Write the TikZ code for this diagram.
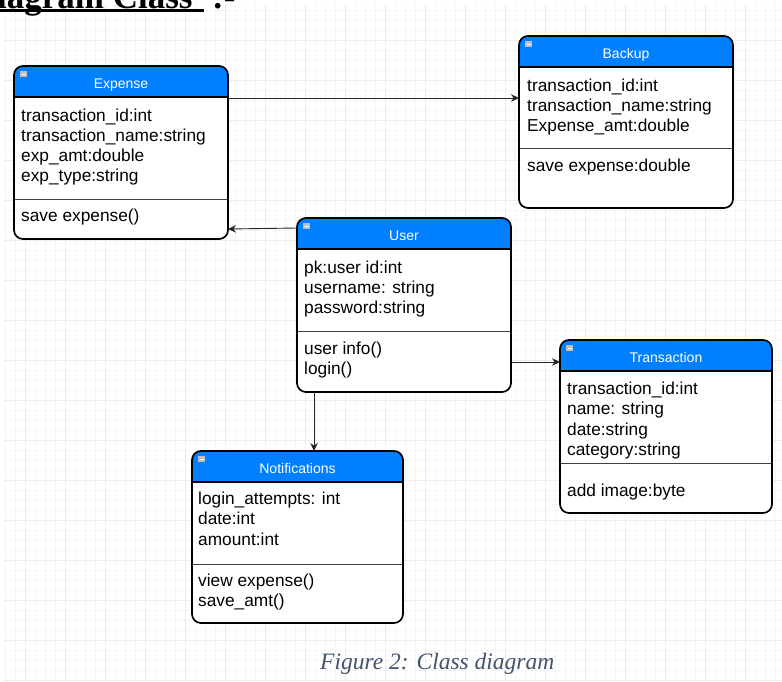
\documentclass[tikz,border=0pt]{standalone}
\usepackage{fontspec}
\setmainfont{Liberation Serif}
\newfontfamily\arialf{Liberation Sans}
\usetikzlibrary{arrows.meta,calc}
\definecolor{hdrblue}{HTML}{007FFF}
\definecolor{capcol}{HTML}{44546A}
\definecolor{gridminor}{HTML}{F5F5F5}
\definecolor{gridmajor}{HTML}{EDEDED}
\tikzset{
 classbox/.style={draw=black, line width=1.7pt, rounded corners=9pt, inner sep=0pt, outer sep=0pt},
 ctitle/.style={font=\arialf\fontsize{14}{16}\selectfont, text=white, anchor=base, inner sep=0pt},
 row/.style={font=\arialf\fontsize{17.3}{20}\selectfont, text=black, anchor=base west, inner sep=0pt},
 arr/.style={draw=black!85, line width=0.9pt, -{Stealth[length=8pt,width=7.5pt]}},
 headtxt/.style={font=\bfseries\fontsize{35}{40}\selectfont, anchor=base west, inner sep=0pt},
 captxt/.style={font=\itshape\fontsize{23.5}{26}\selectfont, text=capcol, anchor=base west, inner sep=0pt},
}
\newcommand\umlclass[8]{%
 \fill[white, rounded corners=9pt] (#2,#3) rectangle (#4,#5);
 \begin{scope}
 \clip[rounded corners=9pt] (#2,#3) rectangle (#4,#5);
 \fill[hdrblue] (#2,#3) rectangle (#4,#6);
 \end{scope}
 \draw[black, line width=1.4pt] (#2,#6) -- (#4,#6);
 \draw[black!75, line width=0.9pt] (#2,#7) -- (#4,#7);
 \fill[gray!50] (#2+6,#3+5) rectangle (#2+13,#3+11);
 \draw[white, line width=0.9pt] (#2+7.5,#3+8) -- (#2+11.5,#3+8);
 \node[ctitle] (#1-title) at ({(#2+#4)/2},#3+22) {#8};
 \node[classbox, minimum width={#4-#2}, minimum height={#5-#3}, anchor=north west] (#1) at (#2,#3) {};
}
\begin{document}
\begin{tikzpicture}[x=1pt,y=-1pt]
\useasboundingbox (0,0) rectangle (782,681);
\fill[white] (0,0) rectangle (782,681);
% grid
\foreach \x in {5,15,...,775} \draw[gridminor, line width=0.7pt] (\x,4) -- (\x,681);
\foreach \y in {10,20,...,680} \draw[gridminor, line width=0.7pt] (3,\y) -- (782,\y);
\foreach \x in {25,65,...,775} \draw[gridmajor, line width=0.7pt] (\x,4) -- (\x,681);
\foreach \y in {40,80,...,680} \draw[gridmajor, line width=0.7pt] (3,\y) -- (782,\y);
% heading (cut off at the top edge, as in the reference)
\node[headtxt] (head1) at (-3,8) {iagram Class};
\fill[black] (0,9) rectangle (204,12);
\node[headtxt] (head2) at (212,8) {:-};
% classes
\umlclass{expense}{14}{66}{228}{239}{97}{199}{Expense}
\node[row] (exp-a1) at (21,121) {transaction\_id:int};
\node[row] (exp-a2) at (21,141) {transaction\_name:string};
\node[row] (exp-a3) at (21,161) {exp\_amt:double};
\node[row] (exp-a4) at (21,181) {exp\_type:string};
\node[row] (exp-m1) at (21,221) {save expense()};

\umlclass{backup}{519}{36}{733}{208}{67}{148}{Backup}
\node[row] (bak-a1) at (527,91) {transaction\_id:int};
\node[row] (bak-a2) at (527,111) {transaction\_name:string};
\node[row] (bak-a3) at (527,131) {Expense\_amt:double};
\node[row] (bak-m1) at (527,171) {save expense:double};

\umlclass{user}{297}{218}{511}{392}{249}{331}{User}
\node[row] (usr-a1) at (304,273) {pk:user id:int};
\node[row] (usr-a2) at (304,293) {username: string};
\node[row] (usr-a3) at (304,313) {password:string};
\node[row] (usr-m1) at (304,354) {user info()};
\node[row] (usr-m2) at (304,374) {login()};

\umlclass{transaction}{560}{340}{772}{513}{371}{463}{Transaction}
\node[row] (trn-a1) at (567,394) {transaction\_id:int};
\node[row] (trn-a2) at (567,414) {name: string};
\node[row] (trn-a3) at (567,435) {date:string};
\node[row] (trn-a4) at (567,455) {category:string};
\node[row] (trn-m1) at (567,496) {add image:byte};

\umlclass{notif}{192}{451}{403}{623}{482}{564}{Notifications}
\node[row] (ntf-a1) at (198,504) {login\_attempts: int};
\node[row] (ntf-a2) at (198,524) {date:int};
\node[row] (ntf-a3) at (198,545) {amount:int};
\node[row] (ntf-m1) at (198,586) {view expense()};
\node[row] (ntf-m2) at (198,606) {save\_amt()};

% connectors
\draw[arr] ($(expense.north east)+(0,32)$) -- ($(backup.north west)+(0,62)$);
\draw[arr] ($(user.north west)+(0,10)$) -- ($(expense.south east)+(0,-10)$);
\draw[arr] ($(user.north east)+(0,144)$) -- ($(transaction.north west)+(0,22)$);
\draw[arr] ($(user.south west)+(17,0)$) -- ($(notif.north west)+(122,0)$);

% caption
\node[captxt] (caption) at (320,669) {Figure 2: Class diagram};
\end{tikzpicture}
\end{document}
